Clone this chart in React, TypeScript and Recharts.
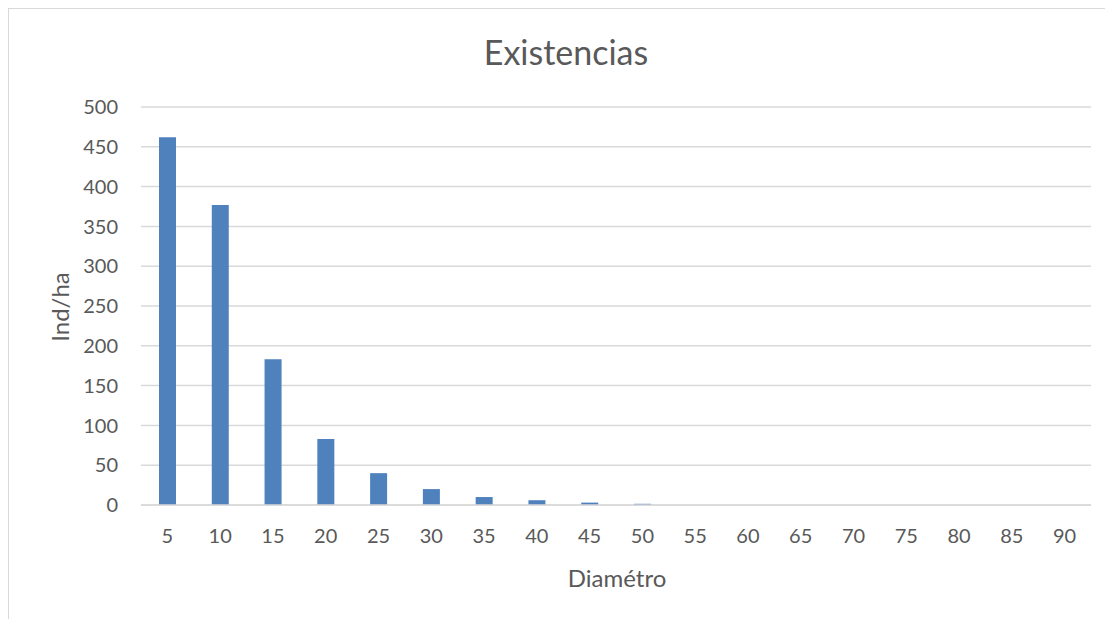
import { BarChart, Bar, XAxis, YAxis, CartesianGrid } from "recharts";

// Diameter classes (cm) and stand density per class
const diametros = [5, 10, 15, 20, 25, 30, 35, 40, 45, 50, 55, 60, 65, 70, 75, 80, 85, 90];
const indHa = [462, 377, 183, 83, 40, 20, 10, 6, 3, 1.5, 0, 0, 0, 0, 0, 0, 0, 0];
const yTicks = [0, 50, 100, 150, 200, 250, 300, 350, 400, 450, 500];

const data = diametros.map((d, i) => ({ diametro: d, total: indHa[i] }));

const FONT = "Lato, 'Open Sans', sans-serif";
const GREY = "#595959";

export default function App() {
  return (
    <div
      style={{
        position: "relative",
        width: 1105,
        height: 611,
        borderLeft: "1px solid #d9d9d9",
        borderTop: "1px solid #d9d9d9",
        fontFamily: FONT,
        color: GREY,
        overflow: "hidden",
      }}
    >
      <div
        style={{
          position: "absolute",
          left: 0,
          width: 1114,
          top: 22,
          textAlign: "center",
          fontSize: 34,
        }}
      >
        Existencias
      </div>
      <div
        style={{
          position: "absolute",
          left: 50,
          top: 298,
          fontSize: 24,
          transform: "translate(-50%, -50%) rotate(-90deg)",
          whiteSpace: "nowrap",
        }}
      >
        Ind/ha
      </div>
      <div
        style={{
          position: "absolute",
          left: 608,
          top: 568,
          fontSize: 24,
          transform: "translate(-50%, -50%)",
          whiteSpace: "nowrap",
        }}
      >
        Diamétro
      </div>
      <BarChart
        width={1104}
        height={610}
        data={data}
        margin={{ top: 98, right: 22, bottom: 0, left: 0 }}
        barCategoryGap={0}
      >
        <CartesianGrid vertical={false} stroke="#d9d9d9" strokeWidth={1.5} />
        <XAxis
          dataKey="diametro"
          height={114}
          tickLine={false}
          tickSize={0}
          tickMargin={24}
          axisLine={{ stroke: "#d9d9d9", strokeWidth: 1.5 }}
          tick={{ fill: GREY, fontSize: 20, fontFamily: FONT }}
          interval={0}
        />
        <YAxis
          width={132}
          domain={[0, 500]}
          ticks={yTicks}
          axisLine={false}
          tickLine={false}
          tickSize={0}
          tickMargin={23}
          tick={{ fill: GREY, fontSize: 20, fontFamily: FONT }}
        />
        <Bar dataKey="total" fill="#4f81bd" barSize={17} isAnimationActive={false} />
      </BarChart>
    </div>
  );
}
